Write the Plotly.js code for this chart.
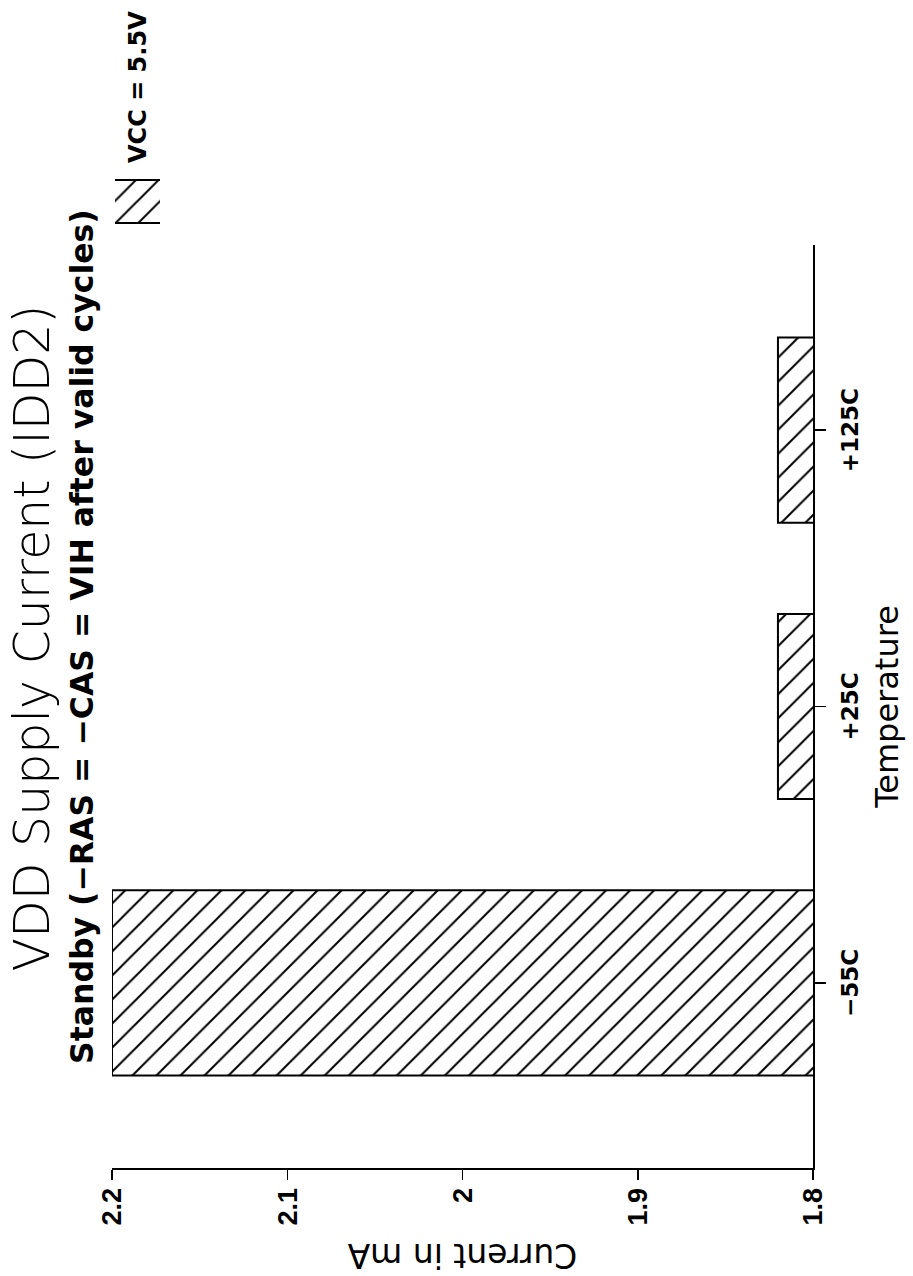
<!DOCTYPE html>
<html>
<head>
<meta charset="utf-8">
<script src="https://cdn.plot.ly/plotly-3.0.1.min.js"></script>
<style>
  html, body { margin: 0; padding: 0; width: 913px; height: 1276px; overflow: hidden; background: #fff; }
  /* The reference page is a landscape chart printed sideways (rotated 90° counter-clockwise). */
  #wrap { position: absolute; left: 0; top: 0; width: 1276px; height: 913px;
          transform-origin: 0 0; transform: translate(0px, 1276px) rotate(-90deg); }
  #chart { width: 1276px; height: 913px; }
</style>
</head>
<body>
<div id="wrap"><div id="chart"></div></div>
<script>
// ---- data ----
const categories = ['\u221255C', '+25C', '+125C'];
const currentMA = [2.2, 1.82, 1.82];
const seriesName = 'VCC = 5.5V';
const yTickVals = [1.8, 1.9, 2.0, 2.1, 2.2];
const yTickText = ['1.8', '1.9', '2', '2.1', '2.2'];
const titleText = 'VDD Supply Current (IDD2)';
const subtitleText = 'Standby (\u2212RAS = \u2212CAS = VIH after valid cycles)';
const xTitle = 'Temperature';
const yTitle = 'Current in mA';

const trace = {
  type: 'bar', x: categories, y: currentMA, name: seriesName,
  marker: {
    color: '#ffffff', line: { color: '#000000', width: 2 },
    pattern: { shape: '\\', size: 17, solidity: 0.12, fgcolor: '#000000', bgcolor: '#ffffff', fillmode: 'replace', fgopacity: 1 }
  },
  hoverinfo: 'x+y'
};

const layout = {
  width: 1276, height: 913,
  margin: { l: 108, r: 245, t: 112, b: 100, pad: 0, autoexpand: false },
  paper_bgcolor: '#ffffff', plot_bgcolor: '#ffffff',
  font: { family: 'DejaVu Sans', color: '#000000' },
  bargap: 0.33, showlegend: true,
  title: {
    text: titleText,
    font: { family: 'DejaVu Sans', size: 49, weight: 200, color: '#000000' },
    x: 0.5, xref: 'container', xanchor: 'center',
    y: 1 - 32 / 913, yref: 'container', yanchor: 'middle'
  },
  annotations: [{
    text: subtitleText, showarrow: false,
    xref: 'paper', x: (639 - 108) / 923, xanchor: 'center',
    yref: 'paper', y: (813 - 81.5) / 701, yanchor: 'middle',
    font: { family: 'DejaVu Sans', size: 31.5, weight: 'bold', color: '#000000' }
  }],
  legend: {
    x: (1036 - 108) / 923, xanchor: 'left',
    y: (813 - 137.5) / 701, yanchor: 'middle',
    itemwidth: 67, bgcolor: 'rgba(0,0,0,0)',
    font: { family: 'DejaVu Sans', size: 24, weight: 'bold', color: '#000000' }
  },
  xaxis: {
    type: 'category', range: [-0.67, 2.67],
    showline: true, linecolor: '#000000', linewidth: 1.5,
    ticks: 'outside', ticklen: 11, tickwidth: 1.5, tickcolor: '#000000',
    ticklabelstandoff: 5,
    showgrid: false, zeroline: false,
    tickfont: { family: 'DejaVu Sans', size: 23, weight: 'bold', color: '#000000' },
    title: { text: xTitle, font: { family: 'DejaVu Sans', size: 32, color: '#000000' }, standoff: 13 }
  },
  yaxis: {
    range: [1.8, 2.2], tickvals: yTickVals, ticktext: yTickText,
    showline: true, linecolor: '#000000', linewidth: 1.5,
    ticks: 'outside', ticklen: 10, tickwidth: 1.5, tickcolor: '#000000',
    ticklabelstandoff: 3,
    showgrid: false, zeroline: false,
    tickfont: { family: 'Liberation Sans', size: 27, weight: 'bold', color: '#000000' },
    title: { text: yTitle, font: { family: 'DejaVu Sans', size: 33, color: '#000000' }, standoff: 8 }
  }
};

Plotly.newPlot('chart', [trace], layout, { displayModeBar: false, staticPlot: true }).then(function (gd) {
  // enlarge the legend swatch to the size of the reference's hatched box
  const sym = gd.querySelector('.legend .legendpoints path');
  if (sym) {
    const t = sym.getAttribute('transform') || '';
    sym.setAttribute('d', 'M-10.75,-12.25H10.75V12.25H-10.75Z');
    sym.setAttribute('transform', t + ' scale(2)');
    sym.style.strokeWidth = '1px';
  }
});
</script>
</body>
</html>
